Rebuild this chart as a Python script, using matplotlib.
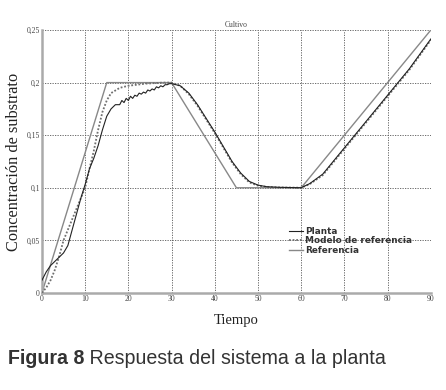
import matplotlib.pyplot as plt

# datos
t_ref = [0, 15, 30, 45, 60, 90]
referencia = [0.0, 0.2, 0.2, 0.1, 0.1, 0.25]

t_mod = [0, 1, 2, 3, 4, 5, 6, 7, 8, 9, 10, 11, 12, 13, 14, 15, 16, 18, 20, 24, 28, 30,
         32, 34, 36, 38, 40, 42, 44, 46, 48, 50, 52, 55, 60,
         62, 65, 70, 75, 80, 85, 90]
modelo = [0.0, 0.005, 0.012, 0.022, 0.035, 0.05, 0.06, 0.07, 0.08, 0.09, 0.1, 0.118, 0.135,
          0.155, 0.172, 0.183, 0.19, 0.195, 0.197, 0.199, 0.2, 0.2,
          0.197, 0.189, 0.178, 0.165, 0.152, 0.138, 0.124, 0.113, 0.105, 0.102, 0.1008, 0.1003, 0.1,
          0.1035, 0.112, 0.137, 0.162, 0.187, 0.212, 0.2405]

t_planta = [0, 1, 2, 3, 4, 5, 6, 7, 8, 9, 10, 11, 12, 13, 14, 15, 16, 17,
            18.0, 18.5, 19.0, 19.5, 20.0, 20.5, 21.0, 21.5, 22.0, 22.5, 23.0, 23.5,
            24.0, 24.5, 25.0, 25.5, 26.0, 26.5, 27.0, 27.5, 28.0, 28.5, 29.0, 29.5, 30.0,
            32, 34, 36, 38, 40, 42, 44, 46, 48, 50, 52, 55, 60,
            62, 65, 70, 75, 80, 85, 90]
planta = [0.012, 0.02, 0.026, 0.03, 0.034, 0.038, 0.045, 0.06, 0.075, 0.09, 0.103, 0.118,
          0.128, 0.14, 0.155, 0.168, 0.175, 0.179,
          0.179, 0.183, 0.181, 0.185, 0.183, 0.187, 0.185, 0.188, 0.187, 0.190, 0.189, 0.191,
          0.190, 0.193, 0.192, 0.194, 0.193, 0.196, 0.195, 0.197, 0.196, 0.198, 0.198, 0.199, 0.199,
          0.197, 0.190, 0.179, 0.166, 0.153, 0.139, 0.125, 0.114, 0.106, 0.1025, 0.101, 0.1004, 0.1,
          0.104, 0.113, 0.138, 0.163, 0.188, 0.213, 0.2415]

xticks = list(range(0, 91, 10))
yticks = [0, 0.05, 0.1, 0.15, 0.2, 0.25]
ylabels = ["0", "0,05", "0,1", "0,15", "0,2", "0,25"]

serif = "Liberation Serif"

fig = plt.figure(figsize=(4.46, 3.9), dpi=100)
fig.patch.set_facecolor("white")
ax = fig.add_axes([0.094, 0.249, 0.872, 0.674])

ax.plot(t_planta, planta, color="#222222", lw=0.8, label="Planta", zorder=4)
ax.plot(t_mod, modelo, color="#6f6f6f", lw=1.3, ls=(0, (1, 1)), label="Modelo de referencia", zorder=3)
ax.plot(t_ref, referencia, color="#888888", lw=1.0, label="Referencia", zorder=2)

ax.set_xlim(0, 90)
ax.set_ylim(0, 0.25)
ax.set_xticks(xticks)
ax.set_xticklabels([str(v) for v in xticks], fontsize=5.5, family=serif, color="#444444")
ax.set_yticks(yticks)
ax.set_yticklabels(ylabels, fontsize=5.5, family=serif, color="#444444")
ax.tick_params(length=0, pad=1.5)

ax.grid(color="#555555", ls=(0, (1.5, 1.5)), lw=0.6, zorder=0)
ax.spines[["top", "right"]].set_visible(False)
for s in ["left", "bottom"]:
    ax.spines[s].set_color("#aaaaaa")
    ax.spines[s].set_linewidth(1.8)

ax.set_title("Cultivo", fontsize=5.5, family=serif, color="#444444", pad=2)
ax.set_xlabel("Tiempo", fontsize=10.5, family=serif, color="#222222", labelpad=8)
ax.set_ylabel("Concentración de substrato", fontsize=11.8, family=serif, color="#222222", labelpad=3)

leg = ax.legend(loc="upper left", bbox_to_anchor=(0.62, 0.275), frameon=False,
                prop={"family": "DejaVu Sans", "weight": "bold", "size": 6.4},
                handlelength=1.5, handletextpad=0.25, labelspacing=0.05, borderpad=0.2)
for txt in leg.get_texts():
    txt.set_color("#333333")

t1 = fig.text(0.018, 0.066, "Figura 8", fontsize=14.1, color="#333333",
              family="Liberation Sans", weight="bold", va="baseline")
fig.canvas.draw()
ax.annotate(" Respuesta del sistema a la planta", xy=(1, 0), xycoords=t1,
            fontsize=14.1, color="#333333", family="Liberation Sans", va="bottom")

fig.savefig("out.png", dpi=100)
